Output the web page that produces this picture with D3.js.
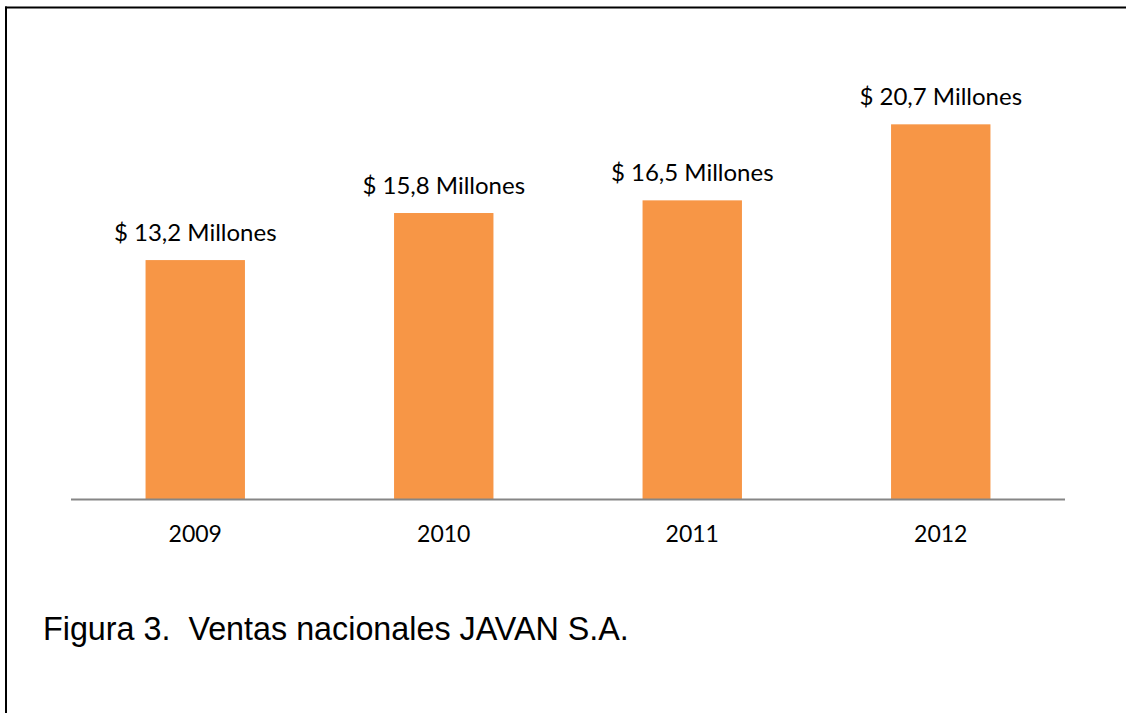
<!DOCTYPE html>
<html>
<head>
<meta charset="utf-8">
<script src="https://cdn.jsdelivr.net/npm/d3@7"></script>
<style>
  html, body { margin: 0; padding: 0; background: #ffffff; }
  svg { display: block; }
</style>
</head>
<body>
<svg id="chart" width="1126" height="713"></svg>
<script>
// Ventas nacionales por año (millones de dólares)
const years = ["2009", "2010", "2011", "2012"];
const sales = [13.2, 15.8, 16.5, 20.7];
const valueLabels = ["$ 13,2 Millones", "$ 15,8 Millones", "$ 16,5 Millones", "$ 20,7 Millones"];
const caption = "Figura 3.  Ventas nacionales JAVAN S.A.";

const svg = d3.select("#chart");
const W = 1126, H = 713;

// Frame: top and left rules
svg.append("line")
  .attr("x1", 5).attr("x2", W).attr("y1", 7.5).attr("y2", 7.5)
  .attr("stroke", "#000").attr("stroke-width", 2);
svg.append("line")
  .attr("x1", 6).attr("x2", 6).attr("y1", 6.5).attr("y2", H)
  .attr("stroke", "#000").attr("stroke-width", 2);

const plot = { left: 71, right: 1065, top: 46.5, bottom: 499 };

const x = d3.scaleBand()
  .domain(years)
  .range([plot.left, plot.right])
  .paddingInner(0.6)
  .paddingOuter(0.3);

const y = d3.scaleLinear()
  .domain([0, 25])
  .range([plot.bottom, plot.top]);

const data = years.map((yr, i) => ({ year: yr, value: sales[i], label: valueLabels[i] }));

// Bars
svg.append("g")
  .selectAll("rect")
  .data(data)
  .join("rect")
  .attr("x", d => x(d.year))
  .attr("y", d => y(d.value))
  .attr("width", x.bandwidth())
  .attr("height", d => y(0) - y(d.value))
  .attr("fill", "#f79646");

// Value labels above bars
svg.append("g")
  .selectAll("text")
  .data(data)
  .join("text")
  .attr("x", d => x(d.year) + x.bandwidth() / 2)
  .attr("y", d => y(d.value) - 19)
  .attr("text-anchor", "middle")
  .attr("font-family", "Lato, 'Open Sans', sans-serif")
  .attr("font-size", 24)
  .attr("fill", "#000")
  .text(d => d.label);

// Category axis
const xAxis = d3.axisBottom(x).tickSize(0).tickPadding(0);
const ax = svg.append("g")
  .attr("transform", `translate(0,${plot.bottom + 0.5})`)
  .call(xAxis);
ax.select(".domain")
  .attr("d", `M${plot.left},0H${plot.right}`)
  .attr("stroke", "#868686")
  .attr("stroke-width", 2);
ax.selectAll(".tick text")
  .attr("dy", null)
  .attr("y", 42)
  .attr("font-family", "Lato, 'Open Sans', sans-serif")
  .attr("font-size", 23)
  .attr("fill", "#000");

// Caption
svg.append("text")
  .attr("x", 43)
  .attr("y", 640)
  .attr("font-family", "'Liberation Sans', Arial, sans-serif")
  .attr("font-size", 32.3)
  .attr("fill", "#000")
  .style("white-space", "pre")
  .attr("xml:space", "preserve")
  .text(caption);
</script>
</body>
</html>
